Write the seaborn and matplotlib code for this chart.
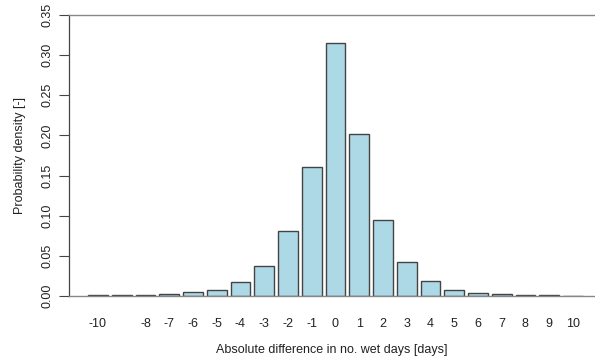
import matplotlib
matplotlib.use("Agg")
import matplotlib.pyplot as plt
import seaborn as sns
import pandas as pd

# Data
diffs = list(range(-10, 11))
density = [0.0008, 0.0010, 0.0015, 0.0025, 0.0045, 0.0080, 0.0170, 0.0368,
           0.0812, 0.1607, 0.3156, 0.2014, 0.0943, 0.0418, 0.0183, 0.0080,
           0.0042, 0.0025, 0.0015, 0.0008, 0.0005]
xtick_labels = ["-10", "", "-8", "-7", "-6", "-5", "-4", "-3", "-2", "-1", "0",
                "1", "2", "3", "4", "5", "6", "7", "8", "9", "10"]
ytick_values = [0.00, 0.05, 0.10, 0.15, 0.20, 0.25, 0.30, 0.35]

sns.set_style("white")
plt.rcParams["font.family"] = ["Liberation Sans", "DejaVu Sans"]

df = pd.DataFrame({"diff": [str(d) for d in diffs], "density": density})

fig = plt.figure(figsize=(5.95, 3.62), dpi=100)
ax = fig.add_axes([69 / 595, 1 - 296 / 362, 1 - 69 / 595, (296 - 15) / 362])

sns.barplot(data=df, x="diff", y="density", order=[str(d) for d in diffs],
            color="#ADD8E6", saturation=1, width=0.833, edgecolor="#444444",
            linewidth=1.0, ax=ax)

ax.set_xlim(-1.22, 20.93)
ax.set_ylim(0, 0.35)

ax.set_xticks(range(len(diffs)))
ax.set_xticklabels(xtick_labels, fontsize=9, color="#222222")
ax.tick_params(axis="x", length=0, pad=16)

ax.set_yticks(ytick_values)
ax.set_yticklabels([f"{v:.2f}" for v in ytick_values], rotation=90,
                   va="center", fontsize=9, color="#222222")
ax.tick_params(axis="y", length=7, width=0.8, color="#444444", pad=4, left=True)

ax.set_xlabel("Absolute difference in no. wet days [days]", fontsize=9,
              color="#222222", labelpad=10)
ax.set_ylabel("Probability density [-]", fontsize=9, color="#222222",
              labelpad=11)

for side in ["left"]:
    ax.spines[side].set_color("#444444")
    ax.spines[side].set_linewidth(0.9)
for side in ["top", "bottom"]:
    ax.spines[side].set_color("#888888")
    ax.spines[side].set_linewidth(1.0)
ax.spines["right"].set_visible(False)

fig.savefig("out.png", dpi=100)
